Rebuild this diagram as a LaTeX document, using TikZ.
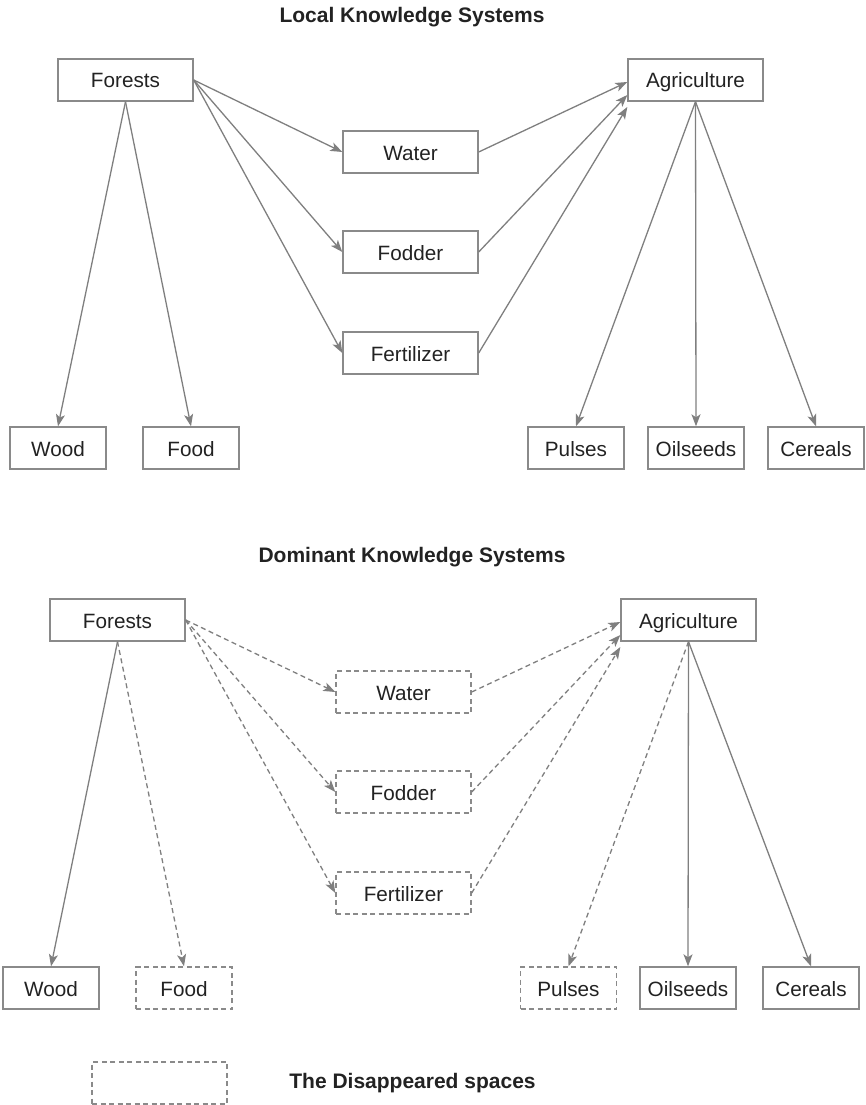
\documentclass[tikz,border=0pt]{standalone}
\usepackage{fontspec}
\setmainfont{Liberation Sans}
\usetikzlibrary{arrows.meta}
\definecolor{linegray}{HTML}{7F7F7F}
\definecolor{boxgray}{HTML}{8A8A8A}
\definecolor{inkgray}{HTML}{222222}
\begin{document}
\begin{tikzpicture}[x=1pt,y=-1pt,
  box/.style={draw=boxgray, line width=1.4pt, minimum height=42pt, inner sep=0pt,
    text height=20pt, text depth=4pt,
    text=inkgray, font=\fontsize{20.7}{24}\selectfont},
  wide/.style={box, minimum width=135pt},
  small/.style={box, minimum width=96pt},
  gone/.style={dash pattern=on 5pt off 3.5pt},
  flow/.style={draw=linegray, line width=1.3pt,
    -{Stealth[length=12pt,width=9pt,inset=3pt]}},
  heading/.style={font=\bfseries\fontsize{21}{25}\selectfont, text=inkgray}
]
\useasboundingbox (0,0) rectangle (865,1105);

% ---------- Local knowledge systems ----------
\node[heading] (title1) at (412,17) {Local Knowledge Systems};

\node[wide] (forestsA) at (125.5,80) {Forests};
\node[wide] (agriA)    at (695.5,80) {Agriculture};
\node[wide] (waterA)   at (410.5,152) {Water};
\node[wide] (fodderA)  at (410.5,252) {Fodder};
\node[wide] (fertA)    at (410.5,353) {Fertilizer};

\node[small] (woodA)    at (58,448)  {Wood};
\node[small] (foodA)    at (191,448) {Food};
\node[small] (pulsesA)  at (576,448) {Pulses};
\node[small] (oilA)     at (696,448) {Oilseeds};
\node[small] (cerealsA) at (816,448) {Cereals};

\draw[flow] (forestsA.south) -- (woodA.north);
\draw[flow] (forestsA.south) -- (foodA.north);
\draw[flow] (forestsA.east) -- (waterA.west);
\draw[flow] (forestsA.east) -- (fodderA.west);
\draw[flow] (forestsA.east) -- (fertA.west);
\draw[flow] (waterA.east)  -- ([yshift=-2pt]agriA.west);
\draw[flow] (fodderA.east) -- ([yshift=-15pt]agriA.west);
\draw[flow] (fertA.east)   -- ([yshift=-27pt]agriA.west);
\draw[flow] (agriA.south) -- (pulsesA.north);
\draw[flow] (agriA.south) -- (oilA.north);
\draw[flow] (agriA.south) -- (cerealsA.north);

% ---------- Dominant knowledge systems ----------
\node[heading] (title2) at (412,557) {Dominant Knowledge Systems};

\node[wide] (forestsB) at (117.5,620) {Forests};
\node[wide] (agriB)    at (688.5,620) {Agriculture};
\node[wide,gone] (waterB)  at (403.5,692) {Water};
\node[wide,gone] (fodderB) at (403.5,792) {Fodder};
\node[wide,gone] (fertB)   at (403.5,893) {Fertilizer};

\node[small]      (woodB)    at (51,988)    {Wood};
\node[small,gone] (foodB)    at (184,988)   {Food};
\node[small,gone] (pulsesB)  at (568.5,988) {Pulses};
\node[small]      (oilB)     at (688,988)   {Oilseeds};
\node[small]      (cerealsB) at (811,988)   {Cereals};

\draw[flow] (forestsB.south) -- (woodB.north);
\draw[flow,gone] (forestsB.south) -- (foodB.north);
\draw[flow,gone] (forestsB.east) -- (waterB.west);
\draw[flow,gone] (forestsB.east) -- (fodderB.west);
\draw[flow,gone] (forestsB.east) -- (fertB.west);
\draw[flow,gone] (waterB.east)  -- ([yshift=-2pt]agriB.west);
\draw[flow,gone] (fodderB.east) -- ([yshift=-15pt]agriB.west);
\draw[flow,gone] (fertB.east)   -- ([yshift=-27pt]agriB.west);
\draw[flow,gone] (agriB.south) -- (pulsesB.north);
\draw[flow] (agriB.south) -- (oilB.north);
\draw[flow] (agriB.south) -- (cerealsB.north);

% ---------- Legend ----------
\node[wide,gone] (legendbox) at (159.5,1083) {};
\node[heading] (legendtext) at (412.5,1083) {The Disappeared spaces};
\end{tikzpicture}
\end{document}
